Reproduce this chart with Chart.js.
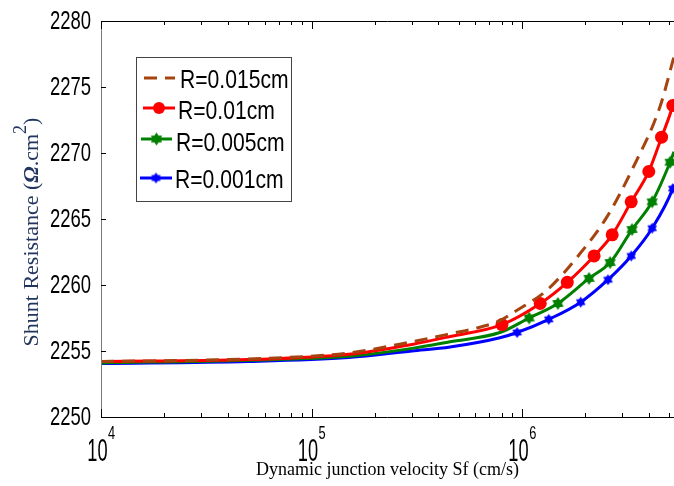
<!DOCTYPE html>
<html>
<head>
<meta charset="utf-8">
<script src="https://cdn.jsdelivr.net/npm/chart.js@4.4.1/dist/chart.umd.min.js"></script>
<style>
  html, body { margin: 0; padding: 0; background: #fff; overflow: hidden; }
  #wrap { width: 674px; height: 486px; }
</style>
</head>
<body>
<div id="wrap"><canvas id="chart" width="674" height="486"></canvas></div>
<script>
// ── Data ────────────────────────────────────────────────────────────────────

const seriesNames = ['R=0.015cm', 'R=0.01cm', 'R=0.005cm', 'R=0.001cm'];

const sf015  = [1e4, 5e4, 1.5e5, 3e5, 4.55e5, 6.3e5, 7.85e5, 9.06e5, 1.31e6, 1.89e6, 2.54e6, 3.37e6, 4.52e6, 5.27e6];
const rsh015 = [2254.2, 2254.4, 2254.85, 2255.7, 2256.3, 2256.8, 2257.3, 2257.9, 2259.6, 2262.4, 2265.2, 2268.9, 2273.5, 2277.3];

const sf010   = [1e4, 5e4, 1.5e5, 3e5, 4.55e5, 8.03e5, 1.22e6, 1.64e6, 2.2e6, 2.68e6, 3.3e6, 4.0e6, 4.6e6, 5.2e6, 5.27e6];
const rsh010  = [2254.2, 2254.35, 2254.75, 2255.5, 2256.1, 2257.0, 2258.6, 2260.2, 2262.2, 2263.8, 2266.3, 2268.6, 2271.2, 2273.6, 2274.0];
const mark010 = [0, 0, 0, 0, 0, 1, 1, 1, 1, 1, 1, 1, 1, 1, 0];

const sf005   = [1e4, 5e4, 1.5e5, 3e5, 4.55e5, 7.85e5, 1.08e6, 1.48e6, 2.08e6, 2.62e6, 3.33e6, 4.15e6, 5.05e6, 5.27e6];
const rsh005  = [2254.1, 2254.3, 2254.6, 2255.2, 2255.7, 2256.4, 2257.5, 2258.6, 2260.5, 2261.7, 2264.2, 2266.3, 2269.3, 2270.1];
const mark005 = [0, 0, 0, 0, 0, 0, 1, 1, 1, 1, 1, 1, 1, 0];

const sf001   = [1e4, 5e4, 1.5e5, 3e5, 4.55e5, 7.85e5, 9.47e5, 1.34e6, 1.9e6, 2.56e6, 3.3e6, 4.15e6, 5.2e6, 5.27e6];
const rsh001  = [2254.05, 2254.2, 2254.5, 2255.0, 2255.3, 2256.0, 2256.4, 2257.4, 2258.7, 2260.4, 2262.2, 2264.3, 2267.3, 2267.6];
const mark001 = [0, 0, 0, 0, 0, 0, 1, 1, 1, 1, 1, 1, 1, 0];

const xDecades    = [1e4, 1e5, 1e6];
const xExponents  = ['4', '5', '6'];
const xMinorSteps = [2, 3, 4, 5, 6, 7, 8, 9];

// ── Helpers ─────────────────────────────────────────────────────────────────

const SANS  = "'Liberation Sans', Arial, sans-serif";
const SERIF = "'Liberation Serif', 'Times New Roman', serif";

function points(xs, ys) {
    return xs.map((x, i) => ({ x, y: ys[i] }));
}

// the source figure was stretched, so text is squeezed sideways / drawn taller
function stretchedText(ctx, text, x, y, font, sx, sy, align, baseline) {
    ctx.save();
    ctx.translate(x, y);
    ctx.scale(sx, sy);
    ctx.font = font;
    ctx.textAlign = align;
    ctx.textBaseline = baseline;
    ctx.fillText(text, 0, 0);
    ctx.restore();
}

function textWidth(ctx, text, font) {
    ctx.save();
    ctx.font = font;
    const w = ctx.measureText(text).width;
    ctx.restore();
    return w;
}

// filled six-pointed star, used as point style for green and blue series
function starMarker(color, r) {
    const c = document.createElement('canvas');
    const s = Math.ceil(r * 2 + 2);
    c.width = c.height = s;
    const g = c.getContext('2d');
    g.translate(s / 2, s / 2);
    g.beginPath();
    for (let i = 0; i < 12; i++) {
        const rad = i % 2 ? r * 0.62 : r;
        const ang = -Math.PI / 2 + i * Math.PI / 6;
        g.lineTo(rad * Math.cos(ang), rad * Math.sin(ang));
    }
    g.closePath();
    g.fillStyle = color;
    g.fill();
    return c;
}

const greenStar = starMarker('#008000', 6.5);
const blueStar  = starMarker('#0000ff', 5.5);

// ── Frame, ticks, labels and legend ─────────────────────────────────────────

const framePlugin = {
    id: 'frame',
    afterDraw(chart) {
        const { ctx, chartArea: a, scales: { x, y } } = chart;
        ctx.save();

        // axis lines: left is grey, top and bottom black
        ctx.lineWidth = 1;
        ctx.strokeStyle = '#000';
        ctx.beginPath();
        ctx.moveTo(a.left, a.top + 0.5);    ctx.lineTo(a.right, a.top + 0.5);
        ctx.moveTo(a.left, a.bottom + 0.5); ctx.lineTo(a.right, a.bottom + 0.5);
        ctx.stroke();
        ctx.strokeStyle = '#7a7a7a';
        ctx.beginPath();
        ctx.moveTo(a.left + 0.5, a.top); ctx.lineTo(a.left + 0.5, a.bottom + 1);
        ctx.stroke();

        // x ticks (inward, top and bottom)
        ctx.strokeStyle = '#000';
        ctx.beginPath();
        xDecades.forEach(d => {
            [1, ...xMinorSteps].forEach(m => {
                const v = d * m;
                if (v > x.max) return;
                const px = Math.round(x.getPixelForValue(v)) + 0.5;
                const len = m === 1 ? 8 : 4;
                ctx.moveTo(px, a.bottom); ctx.lineTo(px, a.bottom - len);
                ctx.moveTo(px, a.top);    ctx.lineTo(px, a.top + len);
            });
        });
        // y ticks (inward)
        y.ticks.forEach(t => {
            const py = Math.round(y.getPixelForValue(t.value)) + 0.5;
            ctx.moveTo(a.left, py); ctx.lineTo(a.left + 5, py);
        });
        ctx.stroke();

        ctx.fillStyle = '#000';

        // y tick labels
        y.ticks.forEach(t => {
            const py = y.getPixelForValue(t.value);
            stretchedText(ctx, String(t.value), a.left - 10, py + 1,
                `22px ${SANS}`, 0.84, 1.14, 'right', 'middle');
        });

        // x tick labels 10^n
        xDecades.forEach((d, i) => {
            const px = x.getPixelForValue(d);
            const wBase = textWidth(ctx, '10', `24px ${SANS}`) * 0.76;
            const wExp  = textWidth(ctx, xExponents[i], `16px ${SANS}`) * 0.8;
            const left = px - (wBase + wExp) / 2;
            stretchedText(ctx, '10', left, 461, `24px ${SANS}`, 0.76, 1.3, 'left', 'alphabetic');
            stretchedText(ctx, xExponents[i], left + wBase + 0.5, 439, `16px ${SANS}`, 0.8, 1.2, 'left', 'alphabetic');
        });

        // y axis title: Shunt Resistance (Ω.cm²)
        ctx.save();
        ctx.translate(38, 232);
        ctx.rotate(-Math.PI / 2);
        ctx.fillStyle = '#22355e';
        ctx.textBaseline = 'alphabetic';
        ctx.textAlign = 'left';
        const parts = [
            { t: 'Shunt Resistance (', f: `22px ${SERIF}`, dy: 0 },
            { t: 'Ω', f: `italic bold 22px ${SERIF}`, dy: 0 },
            { t: '.cm', f: `22px ${SERIF}`, dy: 0 },
            { t: '2', f: `18px ${SERIF}`, dy: -12 },
            { t: ')', f: `22px ${SERIF}`, dy: 0 }
        ];
        let total = 0;
        parts.forEach(p => { ctx.font = p.f; p.w = ctx.measureText(p.t).width; total += p.w; });
        let cx = -total / 2;
        parts.forEach(p => {
            ctx.font = p.f;
            ctx.fillText(p.t, cx, p.dy);
            cx += p.w;
        });
        ctx.restore();

        // legend box
        const box = { l: 136, t: 57, r: 291, b: 201 };
        ctx.fillStyle = '#fff';
        ctx.fillRect(box.l, box.t, box.r - box.l, box.b - box.t);
        ctx.strokeStyle = '#444';
        ctx.lineWidth = 1;
        ctx.strokeRect(box.l + 0.5, box.t + 0.5, box.r - box.l, box.b - box.t);

        const rows = [
            { y: 78,  x0: 144, x1: 175, tx: 180, ty: 81 },
            { y: 108, x0: 143, x1: 175, tx: 178, ty: 112 },
            { y: 139, x0: 141, x1: 172, tx: 176, ty: 144 },
            { y: 178, x0: 140, x1: 172, tx: 175, ty: 181 }
        ];
        chart.data.datasets.forEach((ds, i) => {
            const r = rows[i];
            ctx.strokeStyle = ds.borderColor;
            ctx.lineWidth = ds.borderWidth;
            ctx.setLineDash(ds.borderDash || []);
            ctx.beginPath();
            ctx.moveTo(r.x0, r.y); ctx.lineTo(r.x1, r.y);
            ctx.stroke();
            ctx.setLineDash([]);
            const mx = (r.x0 + r.x1) / 2;
            if (ds.pointStyle === 'circle') {
                ctx.fillStyle = ds.pointBackgroundColor;
                ctx.beginPath();
                ctx.arc(mx, r.y, 6, 0, Math.PI * 2);
                ctx.fill();
            } else if (ds.pointStyle instanceof HTMLCanvasElement) {
                const im = ds.pointStyle;
                ctx.drawImage(im, mx - im.width / 2, r.y - im.height / 2);
            }
            ctx.fillStyle = '#000';
            stretchedText(ctx, ds.label, r.tx, r.ty, `24px ${SANS}`, 0.88, 1.05, 'left', 'middle');
        });

        ctx.restore();
    }
};

// ── Chart ───────────────────────────────────────────────────────────────────

new Chart(document.getElementById('chart'), {
    type: 'line',
    data: {
        datasets: [
            {
                label: seriesNames[0],
                data: points(sf015, rsh015),
                borderColor: '#a6440f',
                borderWidth: 3,
                borderDash: [13, 8],
                pointRadius: 0,
                cubicInterpolationMode: 'monotone'
            },
            {
                label: seriesNames[1],
                data: points(sf010, rsh010),
                borderColor: '#ff0000',
                borderWidth: 3,
                pointStyle: 'circle',
                pointRadius: mark010.map(m => m * 6.5),
                pointBackgroundColor: '#ff0000',
                pointBorderWidth: 0,
                cubicInterpolationMode: 'monotone'
            },
            {
                label: seriesNames[2],
                data: points(sf005, rsh005),
                borderColor: '#008000',
                borderWidth: 3,
                pointStyle: greenStar,
                pointRadius: mark005.map(m => m * 6),
                cubicInterpolationMode: 'monotone'
            },
            {
                label: seriesNames[3],
                data: points(sf001, rsh001),
                borderColor: '#0000ff',
                borderWidth: 3,
                pointStyle: blueStar,
                pointRadius: mark001.map(m => m * 5),
                cubicInterpolationMode: 'monotone'
            }
        ]
    },
    options: {
        responsive: false,
        animation: false,
        layout: { padding: { top: 21, right: 0, left: 0, bottom: 0 } },
        plugins: {
            legend: { display: false },
            tooltip: { enabled: false }
        },
        scales: {
            x: {
                type: 'logarithmic',
                min: 1e4,
                max: 5.27e6,
                afterFit: s => { s.height = 69; },
                grid: { display: false },
                border: { display: false },
                ticks: { display: false },
                title: {
                    display: true,
                    text: 'Dynamic junction velocity Sf (cm/s)',
                    color: '#000',
                    font: { family: SERIF, size: 18 },
                    padding: { top: 0, bottom: 5 }
                }
            },
            y: {
                min: 2250,
                max: 2280,
                afterFit: s => { s.width = 101; },
                grid: { display: false },
                border: { display: false },
                ticks: { stepSize: 5, display: false }
            }
        }
    },
    plugins: [framePlugin]
});
</script>
</body>
</html>
